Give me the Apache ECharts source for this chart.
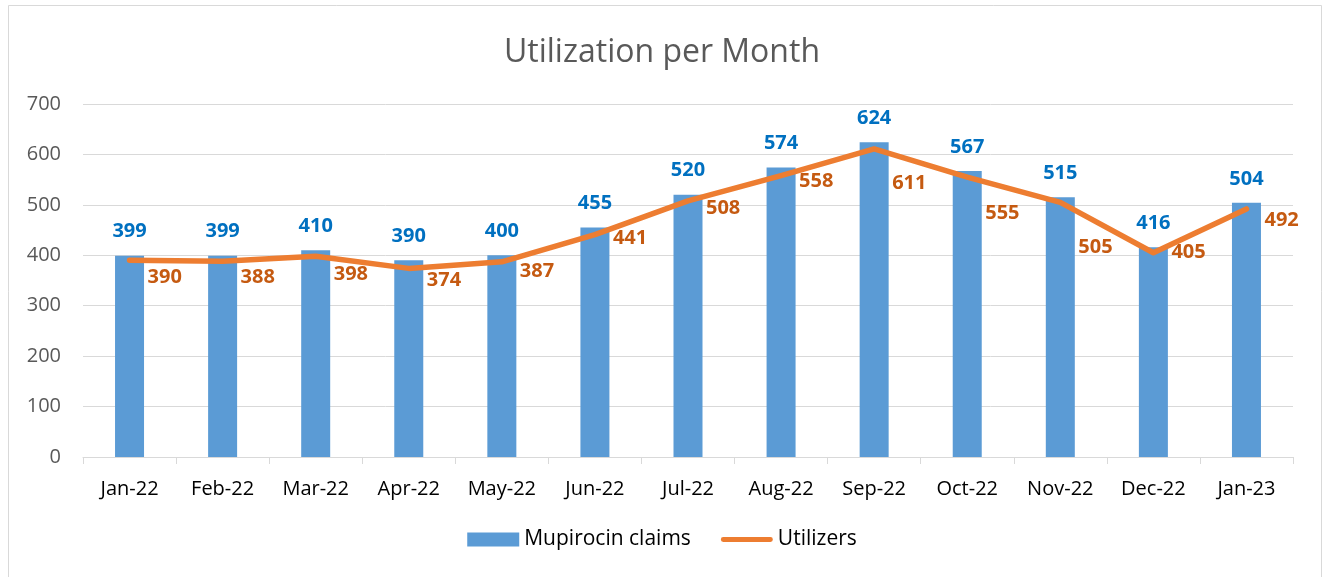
<!DOCTYPE html>
<html>
<head>
<meta charset="utf-8">
<script src="https://cdn.jsdelivr.net/npm/echarts@6/dist/echarts.min.js"></script>
<style>
  html, body { margin: 0; padding: 0; background: #fff; }
  #chart { width: 1324px; height: 577px; }
</style>
</head>
<body>
<div id="chart"></div>
<script>
const months = ['Jan-22', 'Feb-22', 'Mar-22', 'Apr-22', 'May-22', 'Jun-22', 'Jul-22',
  'Aug-22', 'Sep-22', 'Oct-22', 'Nov-22', 'Dec-22', 'Jan-23'];
const claims = [399, 399, 410, 390, 400, 455, 520, 574, 624, 567, 515, 416, 504];
const utilizers = [390, 388, 398, 374, 387, 441, 508, 558, 611, 555, 505, 405, 492];
const yTicks = [0, 100, 200, 300, 400, 500, 600, 700];

// vertical nudge of each utilizer label (px), as placed in the original
const utilLabelDy = [17, 16, 18, 12, 9, 4, 7, 6, 34, 36, 45, 0, 11];

const FONT = '"Open Sans", "Liberation Sans", sans-serif';

// thick round-capped stroke for the legend; the bare moves stretch the box to 54x14
const lineIcon = 'path://M0,0M54,14M2.5,4.5L51.5,4.5A2.5,2.5,0,0,1,51.5,9.5L2.5,9.5A2.5,2.5,0,0,1,2.5,4.5Z';

const chart = echarts.init(document.getElementById('chart'), null, { renderer: 'canvas' });

const utilData = utilizers.map((v, i) => ({
  value: v,
  label: { offset: [0, utilLabelDy[i]] }
}));

const option = {
  backgroundColor: '#fff',
  animation: false,
  title: {
    text: 'Utilization per Month',
    left: 'center',
    top: 32,
    textStyle: { color: '#595959', fontSize: 32, fontWeight: 'normal', fontFamily: FONT }
  },
  graphic: [{
    type: 'rect',
    shape: { x: 8.5, y: 5.5, width: 1313, height: 600 },
    style: { fill: 'none', stroke: '#d9d9d9', lineWidth: 1 },
    silent: true
  }],
  legend: {
    bottom: 22,
    left: 'center',
    itemGap: 30,
    itemWidth: 52,
    itemHeight: 14,
    textStyle: { color: '#000', fontSize: 21, fontFamily: FONT },
    data: [
      { name: 'Mupirocin claims', icon: 'rect' },
      { name: 'Utilizers', icon: lineIcon }
    ]
  },
  grid: { left: 83, right: 31, top: 104, bottom: 120 },
  xAxis: {
    type: 'category',
    data: months,
    axisLine: { lineStyle: { color: '#d9d9d9', width: 1 } },
    axisTick: { show: true, length: 7, lineStyle: { color: '#d9d9d9' } },
    axisLabel: { color: '#000', fontSize: 20, margin: 22, fontFamily: FONT, interval: 0 }
  },
  yAxis: {
    type: 'value',
    min: yTicks[0],
    max: yTicks[yTicks.length - 1],
    interval: yTicks[1] - yTicks[0],
    axisLine: { show: false },
    axisTick: { show: false },
    splitLine: { lineStyle: { color: '#d9d9d9', width: 1 } },
    axisLabel: { color: '#595959', fontSize: 20, margin: 22, fontFamily: FONT }
  },
  series: [
    {
      name: 'Mupirocin claims',
      type: 'bar',
      data: claims,
      barWidth: 29,
      itemStyle: { color: '#5B9BD5' },
      label: {
        show: true,
        position: 'top',
        distance: 14,
        color: '#0070C0',
        fontSize: 20,
        fontWeight: 'bold',
        fontFamily: FONT
      },
      z: 2
    },
    {
      name: 'Utilizers',
      type: 'line',
      data: utilData,
      symbol: 'circle',
      symbolSize: 2,
      showSymbol: true,
      lineStyle: { color: '#ED7D31', width: 5.5, cap: 'round', join: 'round' },
      itemStyle: { color: '#ED7D31' },
      label: {
        show: true,
        position: 'right',
        distance: 17,
        color: '#C55A11',
        fontSize: 20,
        fontWeight: 'bold',
        fontFamily: FONT
      },
      z: 3
    }
  ]
};

chart.setOption(option);
</script>
</body>
</html>
